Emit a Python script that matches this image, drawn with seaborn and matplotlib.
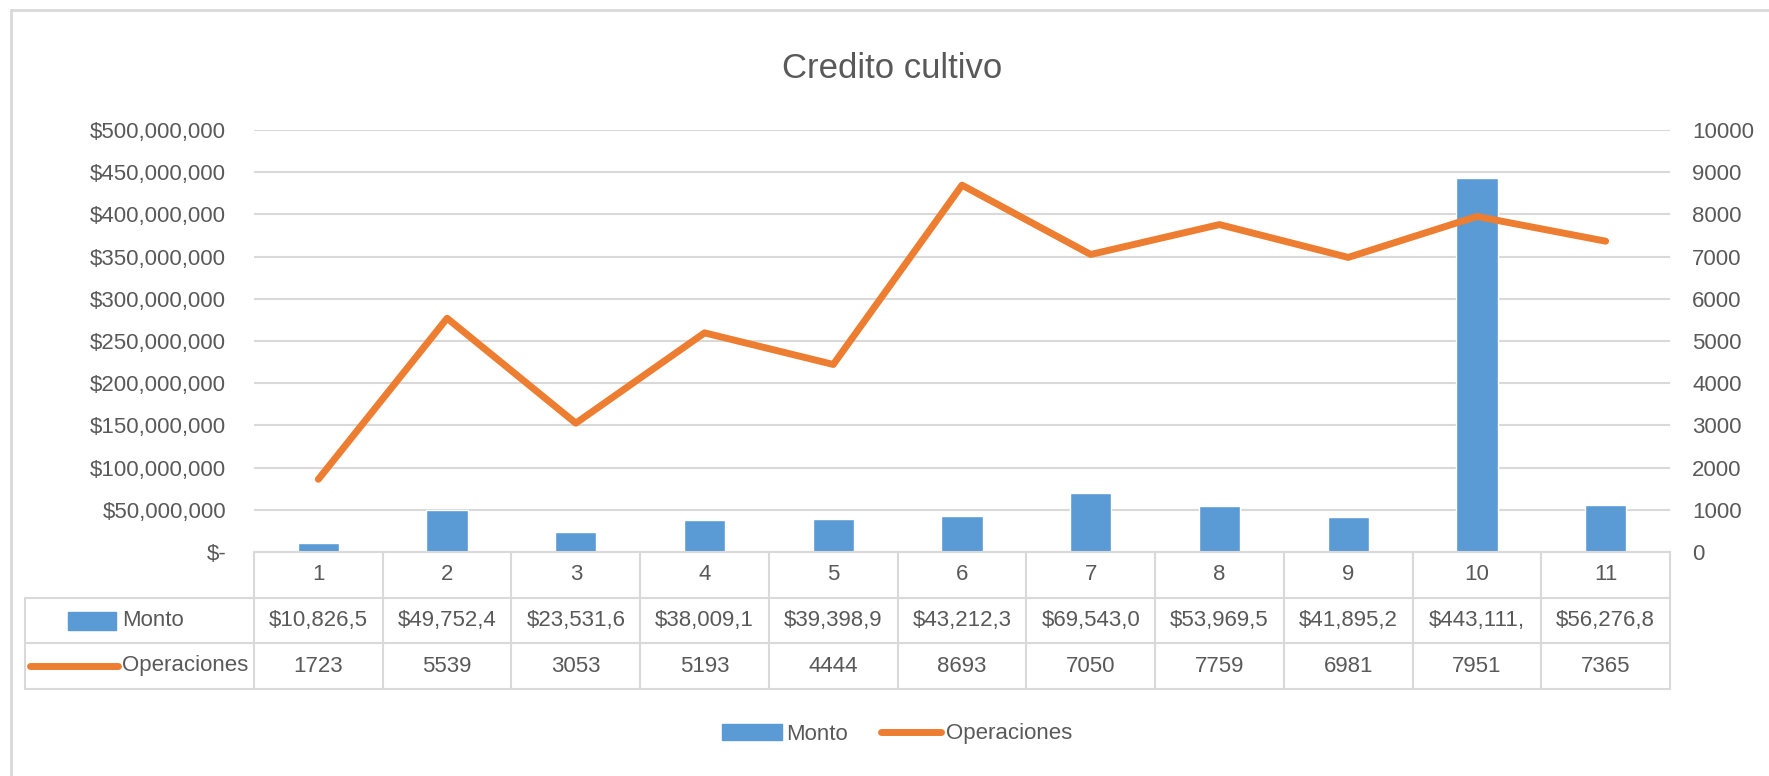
import numpy as np
import pandas as pd
import seaborn as sns
from matplotlib import pyplot as plt
from matplotlib.lines import Line2D
from matplotlib.patches import Patch, Rectangle
from matplotlib.transforms import blended_transform_factory
from matplotlib.ticker import FuncFormatter

categories = ["1", "2", "3", "4", "5", "6", "7", "8", "9", "10", "11"]
monto = [10826500, 49752400, 23531600, 38009100, 39398900, 43212300,
         69543000, 53969500, 41895200, 443111000, 56276800]
operaciones = [1723, 5539, 3053, 5193, 4444, 8693, 7050, 7759, 6981, 7951, 7365]

BLUE = '#5B9BD5'
ORANGE = '#ED7D31'
GRID = '#D9D9D9'
TXT = '#595959'

sns.set_style('white')
plt.rcParams['font.family'] = ['Liberation Sans', 'DejaVu Sans']

df = pd.DataFrame({'cat': categories, 'monto': monto,
                   'ops': operaciones, 'pos': np.arange(len(categories))})

W, H = 1769, 776
fig = plt.figure(figsize=(W / 100, H / 100), dpi=100)
ax = fig.add_axes([254 / W, 1 - 552 / H, (1670 - 254) / W, (552 - 130) / H])

sns.barplot(data=df, x='cat', y='monto', color=BLUE, width=0.32,
            saturation=1, ax=ax, zorder=2)
ax.set_ylim(0, 500_000_000)
ax.set_yticks(np.arange(0, 500_000_001, 50_000_000))
ax.yaxis.set_major_formatter(FuncFormatter(lambda v, p: '$-' if v == 0 else f'${v:,.0f}'))
ax.set_xlim(-0.5, len(categories) - 0.5)
ax.grid(axis='y', color=GRID, lw=1.5, zorder=0)
ax.set_axisbelow(True)
for s in ax.spines.values():
    s.set_visible(False)
ax.set_xticks([])
ax.set_xlabel('')
ax.set_ylabel('')
ax.tick_params(axis='y', length=0, pad=20, labelsize=16, labelcolor=TXT)

ax2 = ax.twinx()
sns.lineplot(data=df, x='pos', y='ops', color=ORANGE, lw=5, ax=ax2,
             solid_capstyle='round', solid_joinstyle='round', zorder=3)
ax2.set_ylim(0, 10000)
ax2.set_yticks(np.arange(0, 10001, 1000))
ax2.set_xlim(-0.5, len(categories) - 0.5)
ax2.set_ylabel('')
ax2.set_xlabel('')
for s in ax2.spines.values():
    s.set_visible(False)
ax2.tick_params(axis='y', length=0, pad=16, labelsize=16, labelcolor=TXT)

# data table below the plot
tr = blended_transform_factory(ax.transData, fig.transFigure)
ty = lambda py: 1 - py / H
rows = [552, 598, 643, 689]
n = len(categories)
lkw = dict(color=GRID, lw=1.5, clip_on=False)
ax.add_line(Line2D([-0.5, n - 0.5], [ty(rows[0])] * 2, transform=tr, **lkw))
for yy in rows[1:]:
    fig.add_artist(Line2D([25 / W, 1670 / W], [ty(yy)] * 2, **lkw))
for i in range(n + 1):
    ax.add_line(Line2D([i - 0.5, i - 0.5], [ty(rows[0]), ty(rows[-1])], transform=tr, **lkw))
fig.add_artist(Line2D([25 / W, 25 / W], [ty(rows[1]), ty(rows[-1])], **lkw))

for i, c in enumerate(categories):
    ax.text(i, ty((rows[0] + rows[1]) / 2), c, transform=tr, ha='center', va='center',
            fontsize=16, color=TXT)
    ax.text(i, ty((rows[1] + rows[2]) / 2), f'${monto[i]:,.0f}'[:9], transform=tr,
            ha='center', va='center', fontsize=16, color=TXT)
    ax.text(i, ty((rows[2] + rows[3]) / 2), str(operaciones[i]), transform=tr,
            ha='center', va='center', fontsize=16, color=TXT)

ym = ty((rows[1] + rows[2]) / 2)
fig.add_artist(Rectangle((68 / W, ym - 9 / H), 48 / W, 18 / H, color=BLUE))
fig.text(122 / W, ym, 'Monto', ha='left', va='center', fontsize=16, color=TXT)
yo = ty((rows[2] + rows[3]) / 2)
fig.add_artist(Line2D([30 / W, 118 / W], [yo, yo], color=ORANGE, lw=5, solid_capstyle='round'))
fig.text(122 / W, yo, 'Operaciones', ha='left', va='center', fontsize=16, color=TXT)

# chart border (top and left)
fig.add_artist(Line2D([11 / W, 1], [ty(10)] * 2, color=GRID, lw=2))
fig.add_artist(Line2D([11 / W, 11 / W], [0, ty(10)], color=GRID, lw=2))

fig.text(892 / W, ty(68), 'Credito cultivo', ha='center', va='center', fontsize=25, color=TXT)

handles = [Patch(color=BLUE, label='Monto'),
           Line2D([], [], color=ORANGE, lw=5, solid_capstyle='round', label='Operaciones')]
fig.legend(handles=handles, loc='center', bbox_to_anchor=(897 / W, ty(734)), ncol=2,
           frameon=False, fontsize=16, labelcolor=TXT, handlelength=2.7, columnspacing=1.5,
           handletextpad=0.2)

fig.savefig('out.png', dpi=100)
